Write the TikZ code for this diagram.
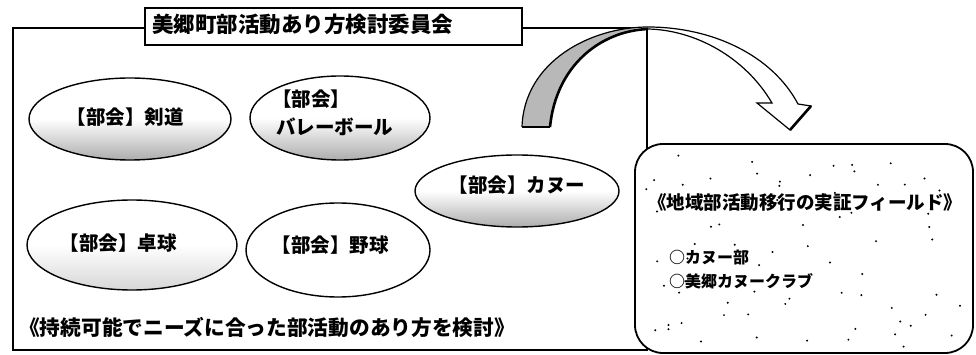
\documentclass[tikz,border=0pt]{standalone}
\usepackage{fontspec}
\newfontfamily\cjk{Noto Sans CJK JP}
\usetikzlibrary{shapes.geometric}
\begin{document}
\begin{tikzpicture}[x=1pt,y=-1pt,
  jp/.style={font=\cjk\bfseries\fontsize{19.5}{22}\selectfont, inner sep=0pt, text=black},
  ell/.style={ellipse, draw=black, line width=1.4pt, inner sep=0pt},
  stip/.style={top color=white, bottom color=black!32, middle color=white},
  lstip/.style={top color=white, bottom color=black!16, middle color=white}]
\useasboundingbox (0,0) rectangle (976,355);
\fill[white] (0,0) rectangle (976,355);
% main committee box
\draw[line width=1.5pt] (13,28) rectangle (647,350);
% title box
\node[draw, line width=2pt, fill=white, minimum width=377pt, minimum height=37pt, inner sep=0pt] (title) at (333.5,26.5) {};
\node[jp, font=\cjk\bfseries\fontsize{21.5}{24}\selectfont, anchor=west] (titletxt) at (152,24) {美郷町部活動あり方検討委員会};
% curved arrow
\fill[white] (522,127) .. controls (524,62) and (590,27) .. (648,27)
  .. controls (712,27) and (772,55) .. (798,104) -- (811,106) -- (790,130) -- (757,103) -- (772,103)
  .. controls (745,57) and (695,30) .. (648,29)
  .. controls (600,31) and (556,66) .. (550,127) -- cycle;
\fill[black!28] (522,127) .. controls (524,62) and (590,27) .. (648,27)
  .. controls (600,31) and (556,66) .. (550,127) -- cycle;
\draw[line width=1.2pt, line join=miter] (522,127) .. controls (524,62) and (590,27) .. (648,27)
  .. controls (712,27) and (772,55) .. (798,104) -- (811,106) -- (790,130) -- (757,103) -- (772,103)
  .. controls (745,57) and (695,30) .. (648,29);
\draw[line width=2.6pt] (648,29) .. controls (600,31) and (556,66) .. (550,127);
\draw[line width=1.2pt] (550,127) -- (522,127);
\draw[line width=2.6pt] (790,130) -- (811,106);
% ellipses
\node[ell, stip, minimum width=202pt, minimum height=82pt] (kendo) at (130,119) {};
\node[jp] (kendotxt) at (125,117) {【部会】剣道};
\node[ell, stip, minimum width=180pt, minimum height=84pt] (volley) at (340,118) {};
\node[jp, anchor=west] (volleytxt1) at (272,99) {【部会】};
\node[jp, anchor=west] (volleytxt2) at (276,127) {バレーボール};
\node[ell, stip, minimum width=204pt, minimum height=72pt] (canoe) at (517,191) {};
\node[jp] (canoetxt) at (517,185) {【部会】カヌー};
\node[ell, lstip, minimum width=210pt, minimum height=90pt] (takkyu) at (132,245) {};
\node[jp] (takkyutxt) at (118,243) {【部会】卓球};
\node[ell, fill=white, minimum width=184pt, minimum height=94pt] (yakyu) at (338,250) {};
\node[jp] (yakyutxt) at (330,245) {【部会】野球};
% bottom text
\node[jp, font=\cjk\bfseries\fontsize{20.7}{23}\selectfont, anchor=west] (bottomtxt) at (19,327) {《持続可能でニーズに合った部活動のあり方を検討》};
% field box
\draw[line width=1.8pt, fill=white, rounded corners=28pt] (635,144) rectangle (973,353);
\pgfmathsetseed{7}
\foreach \i in {1,...,75}{
  \pgfmathsetmacro\dx{645+rnd*320}
  \pgfmathsetmacro\dy{152+rnd*195}
  \fill[black] (\dx,\dy) circle (1.1pt);
}
\node[jp, font=\cjk\bfseries\fontsize{18.5}{21}\selectfont, anchor=west] (fieldtxt) at (648,203) {《地域部活動移行の実証フィールド》};
\node[jp, font=\cjk\bfseries\fontsize{16}{18}\selectfont, anchor=west] (item1) at (669,257) {○カヌー部};
\node[jp, font=\cjk\bfseries\fontsize{16}{18}\selectfont, anchor=west] (item2) at (669,281) {○美郷カヌークラブ};
\end{tikzpicture}
\end{document}
